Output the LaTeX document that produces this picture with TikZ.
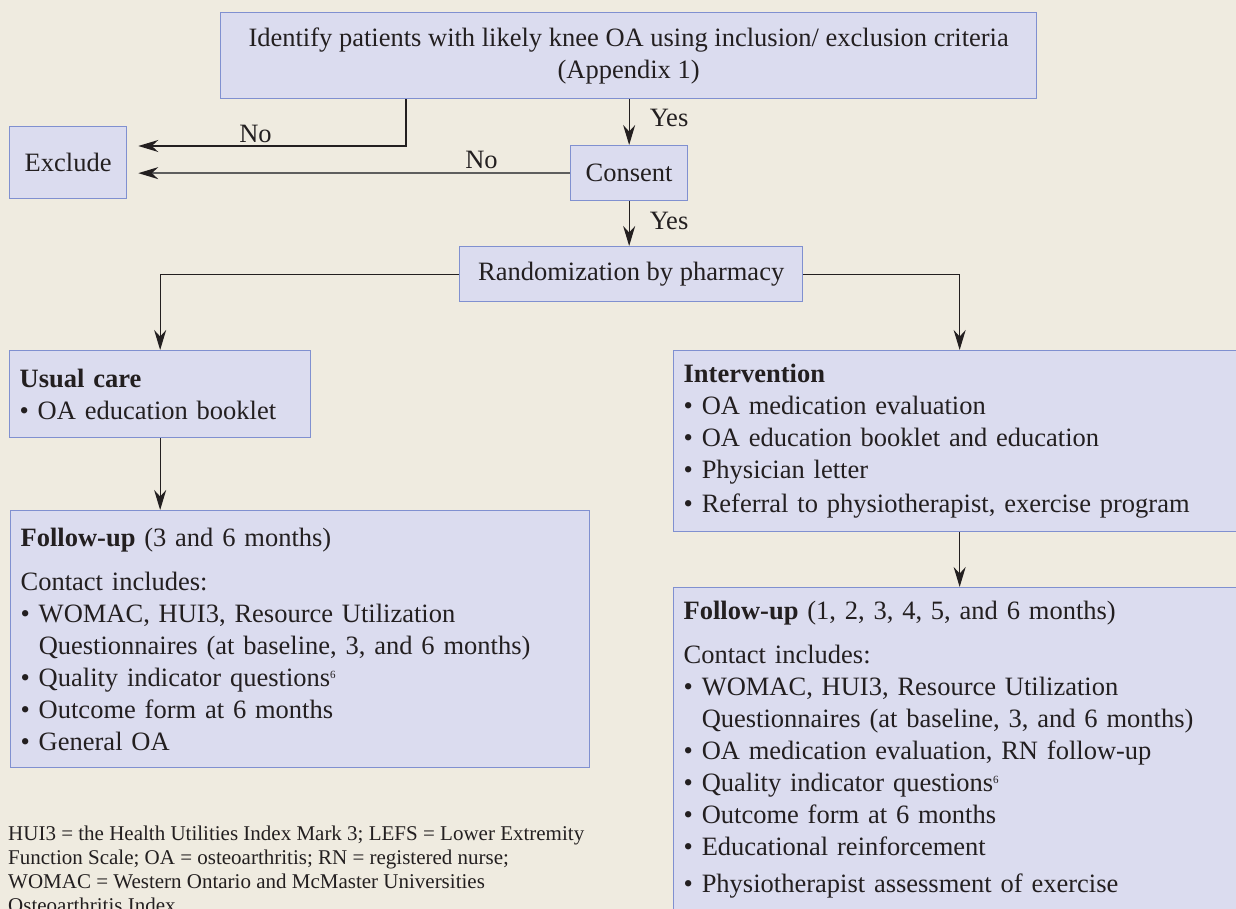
\documentclass[tikz,border=0pt]{standalone}
\usepackage{fontspec}
\setmainfont{Liberation Serif}
\usepackage{tikz}
\usetikzlibrary{arrows.meta,positioning}
\definecolor{oabg}{HTML}{EFEBE0}
\definecolor{oafill}{HTML}{DBDCEF}
\definecolor{oaline}{HTML}{8090D0}
\definecolor{oatext}{HTML}{231F20}
\definecolor{oagray}{HTML}{5E5E5E}
\newcommand{\blt}{\textbullet\ }
\newcommand{\refsix}{\raisebox{8pt}{\fontsize{11}{11}\selectfont 6}}

\begin{document}
\begin{tikzpicture}[x=1pt,y=-1pt,
  box/.style={draw=oaline,fill=oafill,line width=1.3pt,text=oatext,font=\fontsize{26.5}{32}\selectfont,anchor=north west,inner xsep=10pt,inner ysep=13pt},
  plain/.style={box,align=center},
  list/.style={box,align=left},
  lbl/.style={text=oatext,font=\fontsize{26.5}{32}\selectfont,inner sep=3pt},
  flow/.style={draw=oatext,line width=1.2pt,-{Stealth[length=20pt,width=12pt,color=oatext]}}]
  \useasboundingbox (0,0) rectangle (1236,909);
  \clip (0,0) rectangle (1236,909);
  \fill[oabg] (0,0) rectangle (1236,909);
  % screening
  \node[plain,minimum width=816pt,minimum height=86pt] (ident) at (220,12) {Identify patients with likely knee OA using inclusion/ exclusion criteria\\(Appendix 1)};
  \node[plain,minimum width=117pt,minimum height=72pt] (excl) at (9,126) {Exclude};
  \node[plain,minimum width=117pt,minimum height=55pt] (consent) at (570,145) {Consent};
  \node[plain,minimum width=343pt,minimum height=55pt] (rand) at (459,246) {Randomization by pharmacy};
  % arms
  \node[list,text width=281pt,minimum height=87pt] (usual) at (9,350) {\textbf{Usual care}\\\blt OA education booklet};
  \node[list,text width=552pt,minimum height=181pt] (interv) at (673,350) {\textbf{Intervention}\\\blt OA medication evaluation\\\blt OA education booklet and education\\\blt Physician letter\\[2pt]\blt Referral to physiotherapist, exercise program};
  % follow-up
  \node[list,text width=559pt,minimum height=257pt] (fupA) at (10,510) {\textbf{Follow-up} (3 and 6 months)\\[12pt]Contact includes:\\\blt WOMAC, HUI3, Resource Utilization\\\hphantom{\blt}Questionnaires (at baseline, 3, and 6 months)\\\blt Quality indicator questions\refsix\\\blt Outcome form at 6 months\\\blt General OA};
  \node[list,text width=552pt] (fupB) at (673,587) {\textbf{Follow-up} (1, 2, 3, 4, 5, and 6 months)\\[12pt]Contact includes:\\\blt WOMAC, HUI3, Resource Utilization\\\hphantom{\blt}Questionnaires (at baseline, 3, and 6 months)\\\blt OA medication evaluation, RN follow-up\\\blt Quality indicator questions\refsix\\\blt Outcome form at 6 months\\\blt Educational reinforcement\\[5pt]\blt Physiotherapist assessment of exercise\rule[-40pt]{0pt}{0pt}};
  \node[text=oatext,font=\fontsize{21}{24}\selectfont,align=left,anchor=north west,inner sep=0pt] (abbr) at (8,826) {HUI3 = the Health Utilities Index Mark 3; LEFS = Lower Extremity\\Function Scale; OA = osteoarthritis; RN = registered nurse;\\WOMAC = Western Ontario and McMaster Universities\\Osteoarthritis Index};
  % connectors
  \coordinate (nobend) at (406,146);
  \draw[flow,shorten >=11pt] (ident.south -| nobend) -- (nobend) -- node[lbl,above,pos=0.54] (no1) {No} (nobend -| excl.east);
  \draw[flow,draw=oagray,line width=1.8pt,shorten >=11pt] (consent.west) -- node[lbl,above,pos=0.2] (no2) {No} (consent.west -| excl.east);
  \draw[flow] (ident.south -| consent.north) -- node[lbl,right=17pt,pos=0.4] (yes1) {Yes} (consent.north);
  \draw[flow] (consent.south) -- node[lbl,right=17pt,pos=0.43] (yes2) {Yes} (consent.south |- rand.north);
  \draw[flow] (rand.west) -| (usual.north);
  \draw[flow] (rand.east) -| (interv.north);
  \draw[flow] (usual.south) -- (usual.south |- fupA.north);
  \draw[flow] (interv.south) -- (interv.south |- fupB.north);
\end{tikzpicture}
\end{document}
